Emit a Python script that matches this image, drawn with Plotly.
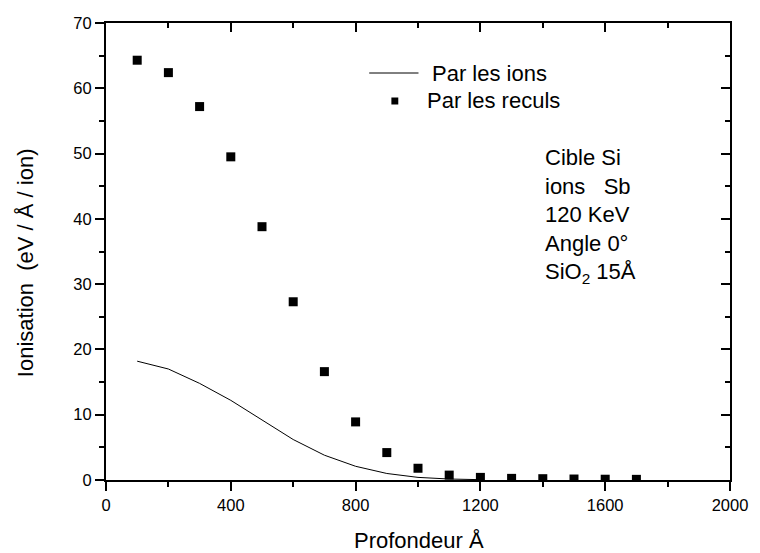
import plotly.graph_objects as go

# Data
depth_ions = [100, 200, 300, 400, 500, 600, 700, 800, 900, 1000, 1100, 1200]
ion_ions = [18.2, 17.0, 14.8, 12.2, 9.2, 6.2, 3.8, 2.1, 1.0, 0.4, 0.15, 0.05]

depth_reculs = [100, 200, 300, 400, 500, 600, 700, 800, 900, 1000, 1100, 1200, 1300, 1400, 1500, 1600, 1700]
ion_reculs = [64.3, 62.4, 57.2, 49.5, 38.8, 27.3, 16.6, 8.9, 4.2, 1.8, 0.75, 0.4, 0.25, 0.2, 0.15, 0.12, 0.1]

x_ticks = [0, 400, 800, 1200, 1600, 2000]
y_ticks = [0, 10, 20, 30, 40, 50, 60, 70]

x_title = "Profondeur Å"
y_title = "Ionisation\u00a0\u00a0(eV / Å / ion)"
legend_labels = ["Par les ions", "Par les reculs"]
info_lines = ["Cible Si", "ions\u00a0\u00a0\u00a0Sb", "120 KeV", "Angle 0°", "SiO<sub>2</sub> 15Å"]

FONT = "Liberation Sans, Arial, sans-serif"

# plot-area geometry in pixels (for placing decorations)
L, R, T, B = 106, 739, 23, 480
W, H = R - L, B - T


def px(xp):
    return (xp - L) / W


def py(yp):
    return (B - yp) / H


fig = go.Figure()
fig.add_trace(go.Scatter(x=depth_ions, y=ion_ions, mode="lines",
                         line=dict(color="black", width=1), name=legend_labels[0],
                         showlegend=False))
fig.add_trace(go.Scatter(x=depth_reculs, y=ion_reculs, mode="markers",
                         marker=dict(symbol="square", size=9, color="black"),
                         name=legend_labels[1], showlegend=False))
fig.add_trace(go.Scatter(x=[None], y=[None], xaxis="x2", yaxis="y2", showlegend=False))

axis_common = dict(showgrid=False, zeroline=False, linecolor="black", linewidth=2,
                   tickcolor="black", tickwidth=1.5, ticklen=9,
                   tickfont=dict(family=FONT, size=16.5, color="black"))

fig.update_layout(
    width=760, height=553,
    margin=dict(l=L, r=760 - R, t=T, b=553 - B),
    plot_bgcolor="white", paper_bgcolor="white",
    font=dict(family=FONT, color="black"),
    xaxis=dict(range=[0, 2000], tickvals=x_ticks, ticks="outside",
               minor=dict(dtick=200, ticks="outside", ticklen=5, tickcolor="black", tickwidth=1.5),
               **axis_common),
    yaxis=dict(range=[0, 70], tickvals=y_ticks, ticks="outside",
               minor=dict(dtick=5, ticks="outside", ticklen=5, tickcolor="black", tickwidth=1.5),
               **axis_common),
    xaxis2=dict(range=[0, 2000], tickvals=x_ticks, ticks="inside", overlaying="x", side="top",
                showticklabels=False, showline=True,
                minor=dict(dtick=200, ticks="inside", ticklen=5, tickcolor="black", tickwidth=1.5),
                **axis_common),
    yaxis2=dict(range=[0, 70], tickvals=y_ticks, ticks="inside", overlaying="y", side="right",
                showticklabels=False, showline=True,
                minor=dict(dtick=5, ticks="inside", ticklen=5, tickcolor="black", tickwidth=1.5),
                **axis_common),
    showlegend=False,
)

# axis titles
fig.add_annotation(xref="paper", yref="paper", x=px(424), y=py(540), text=x_title,
                   showarrow=False, xanchor="center", yanchor="middle",
                   font=dict(family=FONT, size=22, color="black"))
fig.add_annotation(xref="paper", yref="paper", x=px(24), y=py(263), text=y_title,
                   showarrow=False, xanchor="center", yanchor="middle", textangle=-90,
                   font=dict(family=FONT, size=22, color="black"))

# custom legend
fig.add_shape(type="line", xref="paper", yref="paper",
              x0=px(373), x1=px(423), y0=py(73), y1=py(73),
              line=dict(color="black", width=1))
fig.add_annotation(xref="paper", yref="paper", x=px(435), y=py(73),
                   text=legend_labels[0], showarrow=False, xanchor="left", yanchor="middle",
                   font=dict(family=FONT, size=22, color="black"))
fig.add_shape(type="rect", xref="paper", yref="paper",
              x0=px(395.5), x1=px(402.5), y0=py(97.5), y1=py(104.5),
              line=dict(width=0), fillcolor="black")
fig.add_annotation(xref="paper", yref="paper", x=px(430), y=py(101),
                   text=legend_labels[1], showarrow=False, xanchor="left", yanchor="middle",
                   font=dict(family=FONT, size=22, color="black"))

# info block
fig.add_annotation(xref="paper", yref="paper", x=px(549), y=py(143),
                   text="<br>".join(info_lines), showarrow=False, xanchor="left", yanchor="top",
                   align="left", font=dict(family=FONT, size=22, color="black"))

fig.write_html("out.html")
